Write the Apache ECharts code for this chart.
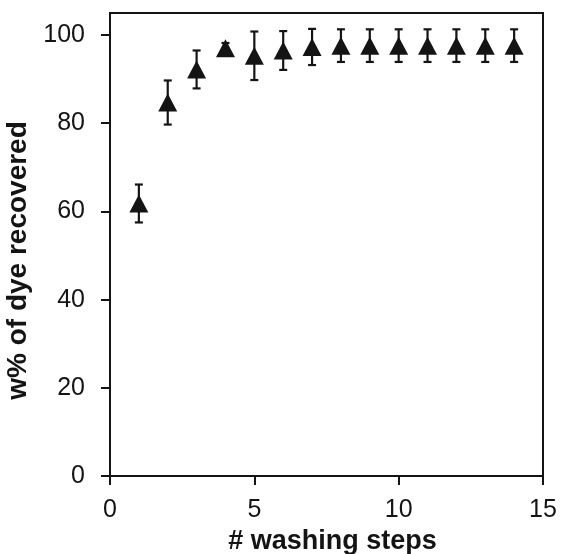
<!DOCTYPE html>
<html>
<head>
<meta charset="utf-8">
<script src="https://cdn.jsdelivr.net/npm/echarts@6/dist/echarts.min.js"></script>
<style>
  html, body { margin: 0; padding: 0; background: #fff; }
  #chart { width: 563px; height: 554px; }
</style>
</head>
<body>
<div id="chart"></div>
<script>
// Washing steps and the mean dye recovery after each step (w%), with error
const steps = [1, 2, 3, 4, 5, 6, 7, 8, 9, 10, 11, 12, 13, 14];
const recovered = [61.8, 84.7, 92.2, 97.0, 95.3, 96.5, 97.3, 97.6, 97.6, 97.6, 97.6, 97.6, 97.6, 97.6];
const errors = [4.3, 5.0, 4.3, 1.2, 5.5, 4.4, 4.1, 3.7, 3.7, 3.7, 3.7, 3.7, 3.7, 3.7];
const yTicks = [0, 20, 40, 60, 80, 100];
const xTicks = [0, 5, 10, 15];

const ink = '#141414';
const font = '"Liberation Sans", Arial, sans-serif';

const points = steps.map((s, i) => [s, recovered[i]]);
const bars = steps.map((s, i) => [s, recovered[i] - errors[i], recovered[i] + errors[i]]);

const chart = echarts.init(document.getElementById('chart'), null, { renderer: 'canvas' });
chart.setOption({
  animation: false,
  backgroundColor: '#fff',
  grid: {
    left: 110, right: 20, top: 13, bottom: 78,
    outerBoundsMode: 'none', containLabel: false,
    show: true, borderColor: ink, borderWidth: 2, backgroundColor: 'transparent'
  },
  xAxis: {
    type: 'value', min: 0, max: 15, interval: 5,
    name: '# washing steps', nameLocation: 'middle', nameGap: 52,
    nameTextStyle: { fontFamily: font, fontWeight: 'bold', fontSize: 27, color: ink, padding: [0, 0, 0, 12] },
    axisLine: { show: true, onZero: false, lineStyle: { color: ink, width: 2 } },
    axisTick: { show: true, length: 9, lineStyle: { color: ink, width: 2 }, customValues: xTicks },
    axisLabel: { fontFamily: font, fontSize: 25, color: ink, margin: 22, customValues: xTicks },
    splitLine: { show: false }
  },
  yAxis: {
    type: 'value', min: 0, max: 105, interval: 20,
    name: 'w% of dye recovered', nameLocation: 'middle', nameGap: 68,
    nameTextStyle: { fontFamily: font, fontWeight: 'bold', fontSize: 28, color: ink, padding: [0, 32, 0, 0] },
    axisLine: { show: true, onZero: false, lineStyle: { color: ink, width: 2 } },
    axisTick: { show: true, length: 9, lineStyle: { color: ink, width: 2 }, customValues: yTicks },
    axisLabel: { fontFamily: font, fontSize: 25, color: ink, margin: 25, customValues: yTicks },
    splitLine: { show: false }
  },
  series: [
    {
      type: 'custom',
      data: bars,
      z: 2,
      renderItem: function (params, api) {
        const x = api.value(0);
        const lo = api.coord([x, api.value(1)]);
        const hi = api.coord([x, api.value(2)]);
        const cap = 4;
        const style = { stroke: ink, lineWidth: 2.2, fill: null };
        return {
          type: 'group',
          children: [
            { type: 'line', shape: { x1: lo[0], y1: lo[1], x2: hi[0], y2: hi[1] }, style: style },
            { type: 'line', shape: { x1: hi[0] - cap, y1: hi[1], x2: hi[0] + cap, y2: hi[1] }, style: style },
            { type: 'line', shape: { x1: lo[0] - cap, y1: lo[1], x2: lo[0] + cap, y2: lo[1] }, style: style }
          ]
        };
      }
    },
    {
      type: 'scatter',
      data: points,
      z: 3,
      symbol: 'triangle',
      symbolSize: [19, 18],
      itemStyle: { color: ink, opacity: 1 }
    }
  ]
});
</script>
</body>
</html>
